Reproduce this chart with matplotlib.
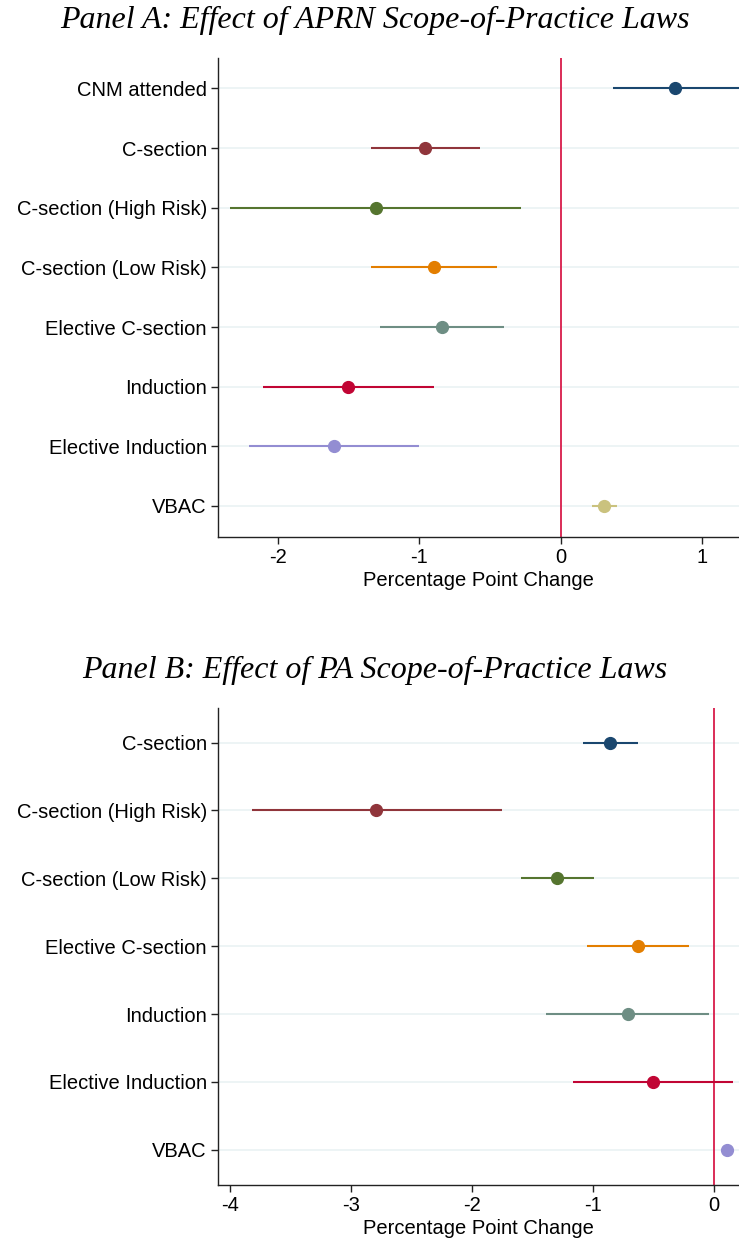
import matplotlib.pyplot as plt
import numpy as np

# Panel A data (APRN laws)
labels_a = ['CNM attended', 'C-section', 'C-section (High Risk)', 'C-section (Low Risk)',
            'Elective C-section', 'Induction', 'Elective Induction', 'VBAC']
est_a = [0.805, -0.958, -1.311, -0.897, -0.839, -1.503, -1.606, 0.307]
lo_a = [0.37, -1.34, -2.338, -1.342, -1.282, -2.107, -2.209, 0.217]
hi_a = [1.40, -0.574, -0.285, -0.452, -0.401, -0.897, -1.002, 0.394]

# Panel B data (PA laws)
labels_b = ['C-section', 'C-section (High Risk)', 'C-section (Low Risk)',
            'Elective C-section', 'Induction', 'Elective Induction', 'VBAC']
est_b = [-0.859, -2.792, -1.294, -0.625, -0.714, -0.500, 0.111]
lo_b = [-1.080, -3.818, -1.592, -1.046, -1.387, -1.165, 0.06]
hi_b = [-0.631, -1.757, -0.995, -0.204, -0.040, 0.160, 0.17]

colors = ['#1a476f', '#90353b', '#55752f', '#e37e00', '#6e8e84',
          '#c10534', '#938dd2', '#cac27e']

W, H = 739, 1241
fig = plt.figure(figsize=(W / 100, H / 100), dpi=100)
plt.rcParams['font.family'] = ['Liberation Sans', 'DejaVu Sans']


def panel(top, bottom, labels, est, lo, hi, xlim, xticks, title, title_y):
    ax = fig.add_axes([218 / W, 1 - bottom / H, 1 - 218 / W, (bottom - top) / H])
    n = len(labels)
    y = np.arange(n)
    for i in range(n):
        ax.axhline(y[i], color='#eaf2f3', lw=1.2, zorder=0)
        ax.plot([lo[i], hi[i]], [y[i], y[i]], color=colors[i], lw=1.5, zorder=2,
                solid_capstyle='butt')
        ax.plot(est[i], y[i], 'o', color=colors[i], ms=8.5, zorder=3)
    ax.axvline(0, color='#d81b4a', lw=1.3, zorder=1)
    ax.set_ylim(n - 1 + 0.52, -0.51)
    ax.set_xlim(*xlim)
    ax.set_yticks(y)
    ax.set_yticklabels(labels, fontsize=14.5)
    ax.set_xticks(xticks)
    ax.set_xticklabels([str(t) if t >= 0 else '-' + str(-t) for t in xticks], fontsize=14.5)
    ax.set_xlabel('Percentage Point Change', fontsize=14.5, labelpad=3)
    for s in ['top', 'right']:
        ax.spines[s].set_visible(False)
    for s in ['left', 'bottom']:
        ax.spines[s].set_color('#222222')
        ax.spines[s].set_linewidth(1.0)
    ax.tick_params(axis='both', length=5, width=1, color='#222222', pad=3)
    fig.text(0.507, 1 - title_y / H, title, ha='center', va='center', fontsize=23,
             style='italic', family=['Liberation Serif', 'DejaVu Serif'])
    return ax


panel(58, 537, labels_a, est_a, lo_a, hi_a, (-2.425, 1.26), [-2, -1, 0, 1],
      'Panel A: Effect of APRN Scope-of-Practice Laws', 20)
panel(708, 1185, labels_b, est_b, lo_b, hi_b, (-4.103, 0.208), [-4, -3, -2, -1, 0],
      'Panel B: Effect of PA Scope-of-Practice Laws', 670)

fig.savefig('out.png', dpi=100)
